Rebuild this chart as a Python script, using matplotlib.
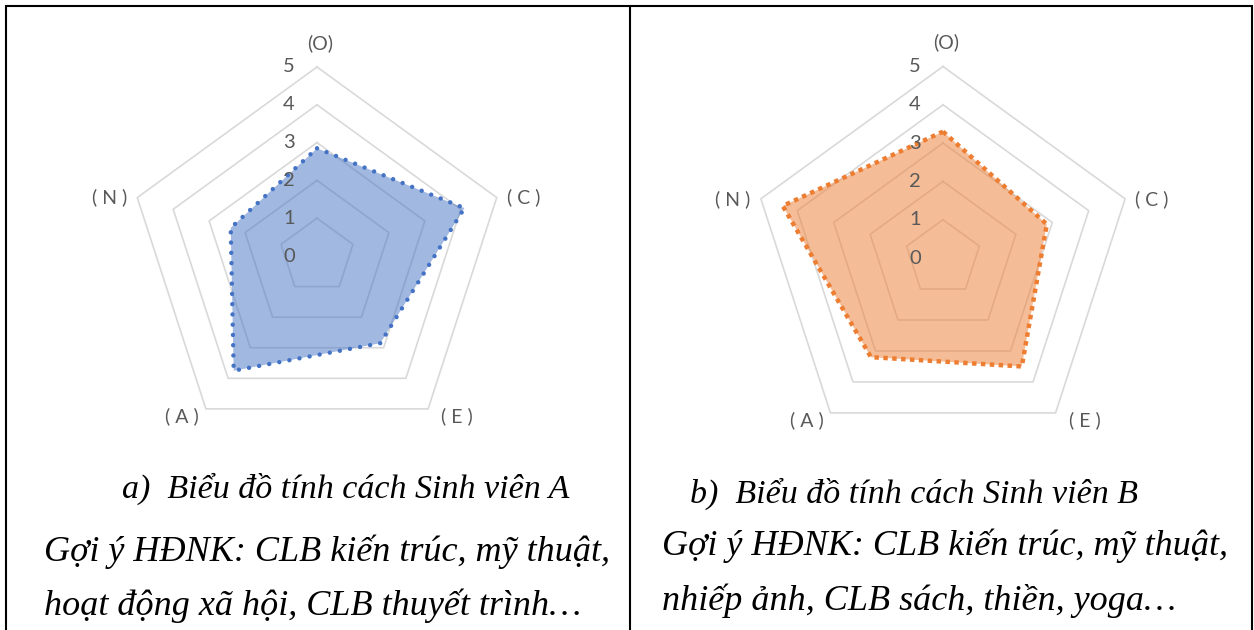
import numpy as np
import matplotlib
matplotlib.use("Agg")
import matplotlib.pyplot as plt
from matplotlib.transforms import offset_copy

# Big Five traits, clockwise from the top
traits = ["(O)", "( C )", "( E )", "( A )", "( N )"]
scale_ticks = [0, 1, 2, 3, 4, 5]

# Scores on the 0-5 scale, in the order of `traits`
student_a = [2.85, 4.1, 2.85, 3.75, 2.4]
student_b = [3.3, 2.85, 3.5, 3.2, 4.4]

caption_a = ["a)  Biểu đồ tính cách Sinh viên A",
             "Gợi ý HĐNK: CLB kiến trúc, mỹ thuật,",
             "hoạt động xã hội, CLB thuyết trình…"]
caption_b = ["b)  Biểu đồ tính cách Sinh viên B",
             "Gợi ý HĐNK: CLB kiến trúc, mỹ thuật,",
             "nhiếp ảnh, CLB sách, thiền, yoga…"]

W, H = 1254, 630
fig = plt.figure(figsize=(W / 100, H / 100), dpi=100)

# Page layer in pixel coordinates: table borders and captions
bg = fig.add_axes([0, 0, 1, 1])
bg.set_xlim(0, W)
bg.set_ylim(H, 0)
bg.axis("off")
border = dict(color="black", lw=1.5, solid_capstyle="butt")
bg.plot([5, 1253], [5.5, 5.5], **border)
bg.plot([6, 6], [5, H], **border)
bg.plot([630, 630], [5, H], **border)
bg.plot([1252, 1252], [5, H], **border)

TEXT_GREY = "#595959"
RING_GREY = "#d9d9d9"
# label offsets (px) from each outer vertex: right, down
label_offsets = [(3, -24), (27, 0), (29, 7), (-24, 7), (-28, 0)]


def radar(cx, cy, R, values, color, dashes, capstyle):
    ax = fig.add_axes([(cx - R) / W, (H - cy - R) / H, 2 * R / W, 2 * R / H],
                      projection="polar")
    ax.set_theta_offset(np.pi / 2)
    ax.set_theta_direction(-1)
    ax.set_ylim(0, 5)
    ax.axis("off")
    ax.patch.set_alpha(0)

    n = len(traits)
    ang = np.linspace(0, 2 * np.pi, n, endpoint=False)
    closed = np.append(ang, ang[0])

    for k in scale_ticks[1:]:
        ax.plot(closed, [k] * (n + 1), color=RING_GREY, lw=1.2,
                zorder=1, clip_on=False)

    vals = np.append(values, values[0])
    ax.fill(closed, vals, color=color, alpha=0.5, lw=0, zorder=2, clip_on=False)
    ax.plot(closed, vals, color=color, lw=3.2, linestyle=(0, dashes),
            dash_capstyle=capstyle, zorder=3, clip_on=False)

    tick_tr = offset_copy(ax.transData, fig=fig, x=-28, y=0, units="dots")
    for k in scale_ticks:
        ax.text(0, k, str(k), transform=tick_tr, ha="center", va="center",
                fontsize=14.5, color=TEXT_GREY, family="Lato")

    for a, lab, (dx, dy) in zip(ang, traits, label_offsets):
        tr = offset_copy(ax.transData, fig=fig, x=dx, y=-dy, units="dots")
        ax.text(a, 5, lab, transform=tr, ha="center", va="center",
                fontsize=14, color=TEXT_GREY, family="Lato")
    return ax


radar(317, 256, 189, student_a, "#4472C4", (0.01, 2.3), "round")
radar(943, 258, 191.5, student_b, "#ED7D31", (1, 1), "butt")

serif = dict(family="Liberation Serif", style="italic",
             color="black", va="center", ha="left")
bg.text(122, 489, caption_a[0], fontsize=24.5, **serif)
bg.text(44, 552, caption_a[1], fontsize=26, **serif)
bg.text(44, 606, caption_a[2], fontsize=26, **serif)
bg.text(690, 494, caption_b[0], fontsize=24.5, **serif)
bg.text(662, 546, caption_b[1], fontsize=26, **serif)
bg.text(662, 601, caption_b[2], fontsize=26, **serif)

fig.savefig("out.png", dpi=100)
